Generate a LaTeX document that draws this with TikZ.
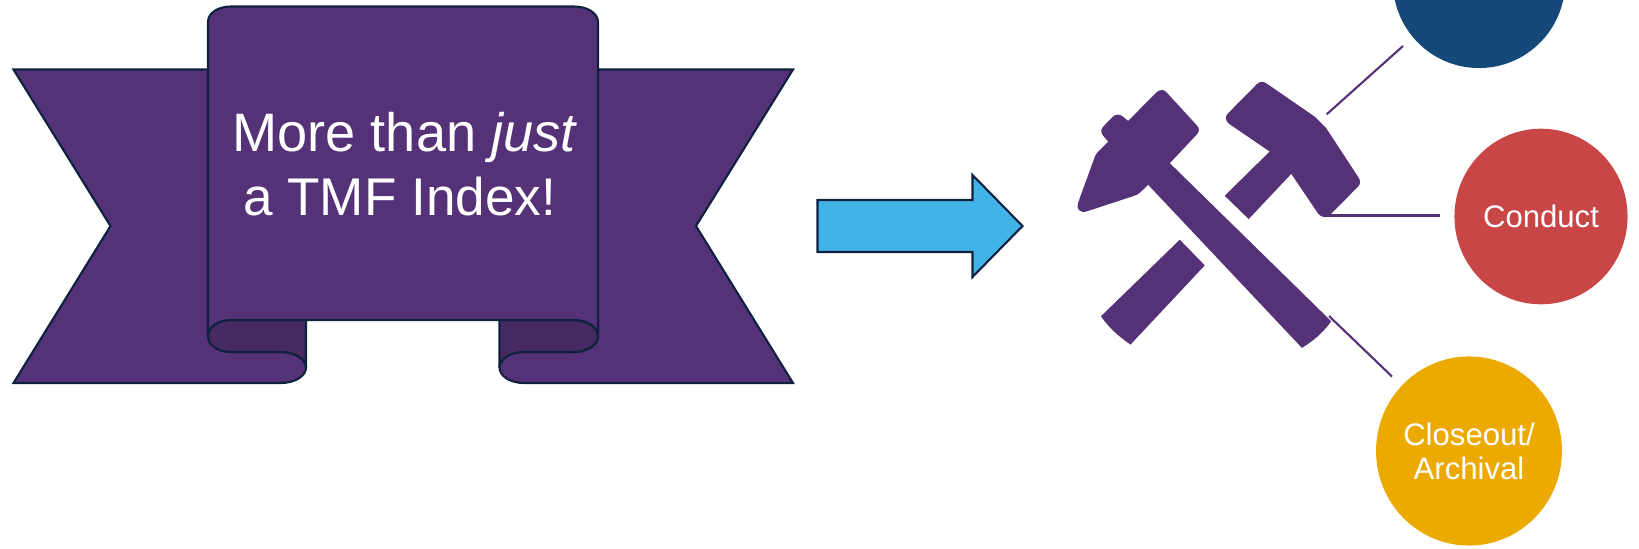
\documentclass[tikz,border=0pt]{standalone}
\usepackage{fontspec}
\setmainfont{Liberation Sans}
\usetikzlibrary{shapes.geometric}
\definecolor{ribbon}{HTML}{553177}
\definecolor{ribbondark}{HTML}{452960}
\definecolor{edgeline}{HTML}{0E2240}
\definecolor{arrowblue}{HTML}{41B3E6}
\definecolor{discblue}{HTML}{14497A}
\definecolor{discred}{HTML}{C84646}
\definecolor{discyellow}{HTML}{ECA900}
\tikzset{
  ribbonpart/.style={fill=ribbon,draw=edgeline,line width=0.6pt,line join=miter},
  foldpart/.style={fill=ribbondark,draw=edgeline,line width=0.6pt},
  toolshape/.style={fill=ribbon,draw=none},
  linkline/.style={draw=ribbon,line width=0.6pt},
  disc/.style={ellipse,inner sep=0pt,text=white,align=center,font=\fontsize{8.85}{9.7}\selectfont},
  bigtext/.style={inner sep=0pt,text=white,font=\fontsize{15.1}{17.6}\selectfont,anchor=base}
}
\begin{document}
\begin{tikzpicture}[x=0.01cm,y=-0.01cm]
\useasboundingbox (0,0) rectangle (1639,548);
\clip (0,0) rectangle (1639,548);
% ribbon tails
\path[ribbonpart] (13.5,69.5) -- (208,69.5) -- (208,336) .. controls (208,345) and (218,352) .. (231,352) -- (281,352)
  .. controls (295,352) and (306,359) .. (306,367.5) .. controls (306,376) and (295,383) .. (281,383) -- (13.5,383) -- (110.5,226) -- cycle;
\path[ribbonpart] (793,69.5) -- (598,69.5) -- (598,336) .. controls (598,345) and (587,352) .. (574,352) -- (524,352)
  .. controls (510,352) and (499.5,359) .. (499.5,367.5) .. controls (499.5,376) and (510,383) .. (524,383) -- (793,383) -- (696,226) -- cycle;
% dark folds
\path[foldpart] (208,336) .. controls (208,327) and (218,320) .. (231,320) -- (306,320) -- (306,367.5)
  .. controls (306,359) and (295,352) .. (281,352) -- (231,352) .. controls (218,352) and (208,345) .. (208,336) -- cycle;
\path[foldpart] (598,336) .. controls (598,327) and (587,320) .. (574,320) -- (499.5,320) -- (499.5,367.5)
  .. controls (499.5,359) and (510,352) .. (524,352) -- (574,352) .. controls (587,352) and (598,345) .. (598,336) -- cycle;
% ribbon centre
\path[ribbonpart] (208,336) -- (208,22) .. controls (208,13) and (218,6.5) .. (231,6.5) -- (574,6.5)
  .. controls (587,6.5) and (598,13) .. (598,22) -- (598,336)
  .. controls (598,327) and (587,320) .. (574,320) -- (231,320) .. controls (218,320) and (208,327) .. (208,336) -- cycle;
\node[bigtext,font=\fontsize{15.4}{17.6}\selectfont] (line1) at (405,151) {More than \textit{just}};
\node[bigtext] (line2) at (399.7,215) {a TMF Index!};
% block arrow
\path[fill=arrowblue,draw=edgeline,line width=0.6pt] (817.5,200) -- (972.5,200) -- (972.5,175) -- (1022.5,226) -- (972.5,277) -- (972.5,252) -- (817.5,252) -- cycle;
% tools
\begin{scope}[shift={(1050,60)},x=0.003333cm,y=-0.003333cm]
\path[toolshape] (235,183) -- (320,97) .. controls (330,88) and (342,88) .. (350,97) -- (440,195)
  .. controls (450,205) and (450,215) .. (440,225) -- (360,310) -- (845,785)
  .. controls (820,820) and (790,845) .. (757,865) -- (295,375) -- (272,397)
  .. controls (265,404) and (258,407) .. (250,409) -- (110,455) .. controls (90,461) and (78,448) .. (84,430)
  -- (135,290) .. controls (138,283) and (141,279) .. (145,275) -- (175,245) -- (160,228)
  .. controls (152,218) and (152,208) .. (160,200) -- (188,171) .. controls (197,162) and (210,162) .. (219,170) -- cycle;
\path[toolshape] (622,72) .. controls (630,64) and (642,64) .. (650,70) -- (795,170) -- (830,205) -- (925,350)
  .. controls (934,362) and (934,372) .. (925,381) -- (845,462) .. controls (830,476) and (816,474) .. (806,462)
  -- (725,342) -- (597,478) -- (525,408) -- (660,275) -- (540,193) .. controls (526,183) and (525,170) .. (535,160) -- cycle;
\path[toolshape] (390,540) -- (465,617) -- (242,855) .. controls (205,830) and (178,805) .. (153,770) -- cycle;
\end{scope}
% discs
\node[disc,fill=discblue,minimum width=1.72cm,minimum height=1.72cm] (planning) at (1479,-18) {};
\node[disc,fill=discred,minimum width=1.73cm,minimum height=1.755cm] (conduct) at (1541,216.5) {Conduct};
\node[disc,fill=discyellow,minimum width=1.84cm,minimum height=1.89cm] (closeout) at (1469,451) {Closeout/\\Archival};
% connectors
\coordinate (a1) at (1326.7,114.3);
\coordinate (a2) at (1403,46);
\coordinate (b1) at (1325,215.5);
\coordinate (b2) at (1439.5,215.5);
\coordinate (c1) at (1329,316);
\coordinate (c2) at (1392,376.5);
\draw[linkline] (a1) -- (a2);
\draw[linkline] (b1) -- (b2);
\draw[linkline] (c1) -- (c2);
\end{tikzpicture}
\end{document}
